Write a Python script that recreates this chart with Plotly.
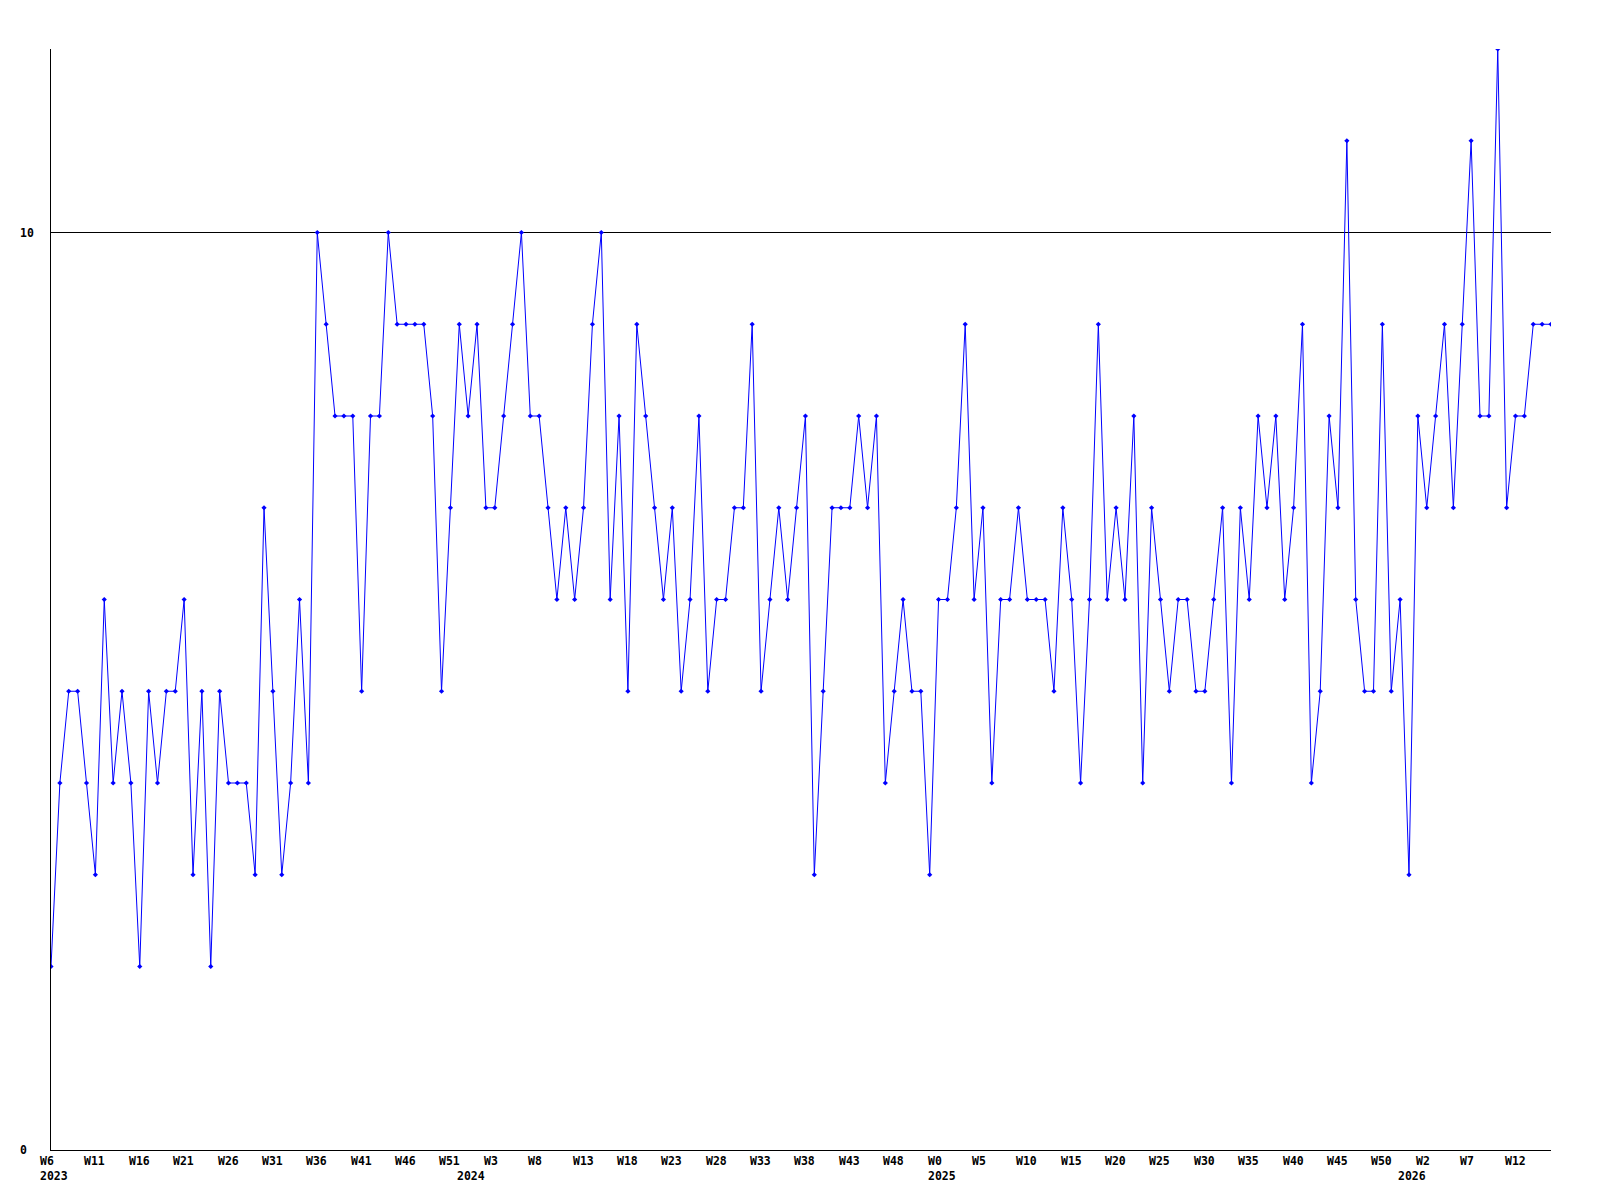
import plotly.graph_objects as go

# Weekly values, starting at W6 2023 (one per week)
values = [
    2, 4, 5, 5, 4, 3, 6, 4, 5, 4, 2, 5, 4, 5, 5,
    6, 3, 5, 2, 5, 4, 4, 4, 3, 7, 5, 3, 4, 6, 4,
    10, 9, 8, 8, 8, 5, 8, 8, 10, 9, 9, 9, 9, 8, 5,
    7, 9, 8, 9, 7, 7, 8, 9, 10, 8, 8, 7, 6, 7, 6,
    7, 9, 10, 6, 8, 5, 9, 8, 7, 6, 7, 5, 6, 8, 5,
    6, 6, 7, 7, 9, 5, 6, 7, 6, 7, 8, 3, 5, 7, 7,
    7, 8, 7, 8, 4, 5, 6, 5, 5, 3, 6, 6, 7, 9, 6,
    7, 4, 6, 6, 7, 6, 6, 6, 5, 7, 6, 4, 6, 9, 6,
    7, 6, 8, 4, 7, 6, 5, 6, 6, 5, 5, 6, 7, 4, 7,
    6, 8, 7, 8, 6, 7, 9, 4, 5, 8, 7, 11, 6, 5, 5,
    9, 5, 6, 3, 8, 7, 8, 9, 7, 9, 11, 8, 8, 12, 7,
    8, 8, 9, 9, 9,
]

# Tick labels, every 5th week
week_labels = ["W6", "W11", "W16", "W21", "W26", "W31", "W36", "W41", "W46", "W51",
               "W3", "W8", "W13", "W18", "W23", "W28", "W33", "W38", "W43", "W48",
               "W0", "W5", "W10", "W15", "W20", "W25", "W30", "W35", "W40", "W45",
               "W50", "W2", "W7", "W12"]
week_label_step = 5

# Year labels and the week index where each year begins
year_labels = ["2023", "2024", "2025", "2026"]
year_start_index = [0, 47, 100, 153]

y_tick_vals = [0, 10]
y_tick_text = ["0", "10"]

x = list(range(len(values)))

FONT = dict(family="DejaVu Sans Mono", size=11.5, color="black", weight="bold")

fig = go.Figure()
fig.add_trace(go.Scatter(
    x=x, y=values, mode="lines+markers",
    line=dict(color="#0000ff", width=1),
    marker=dict(symbol="diamond", size=4, color="#0000ff"),
    hoverinfo="skip",
))

annotations = []
for i, lab in enumerate(week_labels):
    annotations.append(dict(
        x=i * week_label_step, y=0, xref="x", yref="paper",
        text=lab, showarrow=False, xanchor="left", yanchor="middle",
        xshift=-13, yshift=-11, font=FONT,
    ))
for lab, idx in zip(year_labels, year_start_index):
    annotations.append(dict(
        x=idx, y=0, xref="x", yref="paper",
        text=lab, showarrow=False, xanchor="left", yanchor="middle",
        xshift=-13, yshift=-26, font=FONT,
    ))
for v, t in zip(y_tick_vals, y_tick_text):
    annotations.append(dict(
        x=0, y=v, xref="paper", yref="y",
        text=t, showarrow=False, xanchor="left", yanchor="middle",
        xshift=-33, font=FONT,
    ))

fig.update_layout(
    width=1600, height=1200,
    margin=dict(l=43, r=57, t=41, b=58),
    paper_bgcolor="white", plot_bgcolor="white",
    showlegend=False,
    annotations=annotations,
    xaxis=dict(
        range=[0, len(values) - 1], showgrid=False, zeroline=False,
        showline=True, linecolor="black", linewidth=1,
        showticklabels=False, ticks="",
    ),
    yaxis=dict(
        range=[0, 12], tickvals=y_tick_vals, showticklabels=False, ticks="",
        showgrid=True, gridcolor="black", gridwidth=1,
        zeroline=False, showline=True, linecolor="black", linewidth=1,
    ),
)

fig.write_html("out.html")
